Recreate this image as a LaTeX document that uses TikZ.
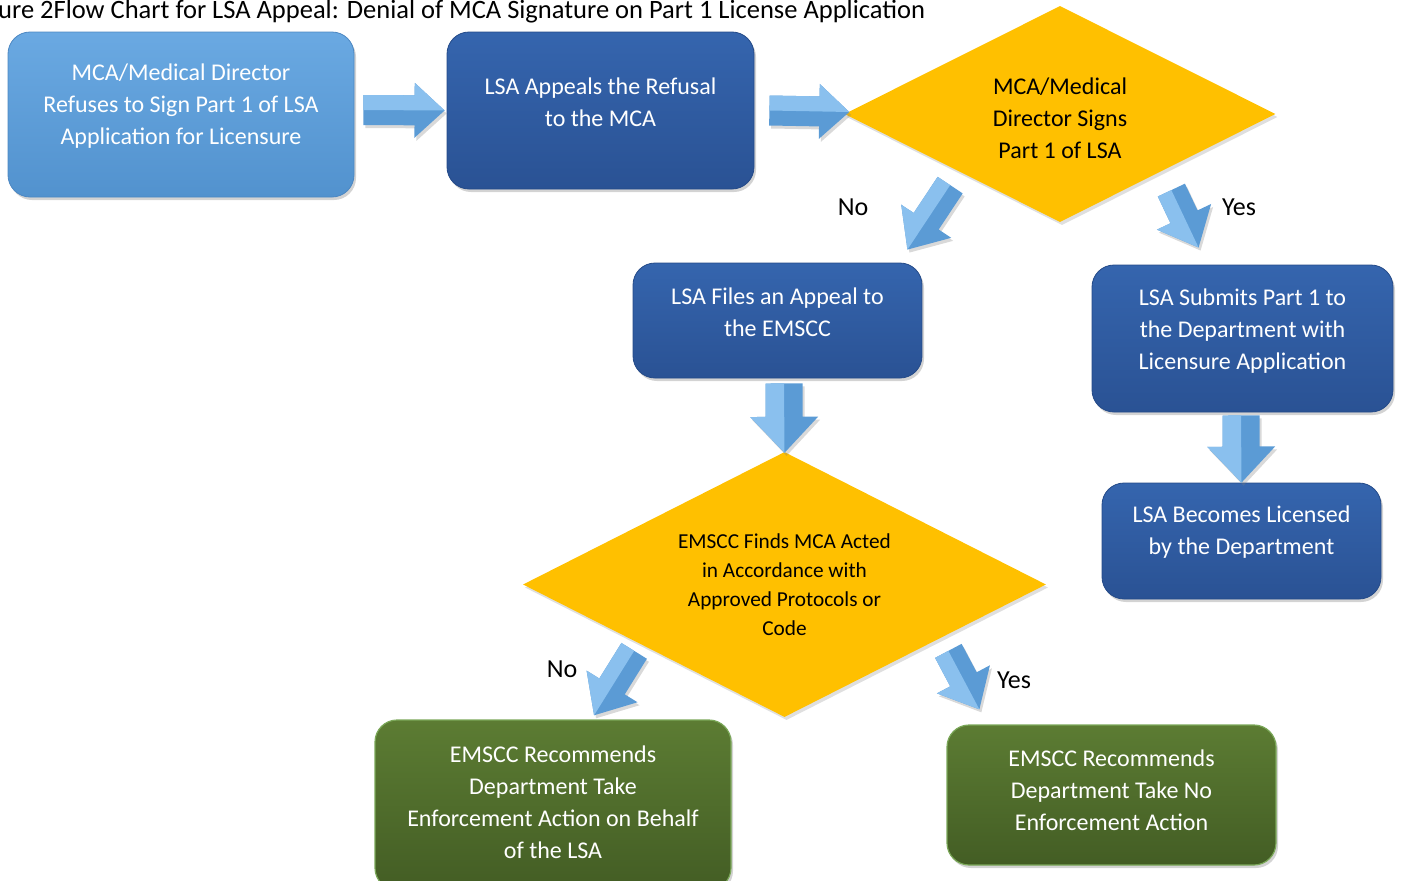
\documentclass[tikz,border=0pt]{standalone}
\usepackage{fontspec}
\setmainfont{Carlito}
\usetikzlibrary{shapes.geometric,calc,shadows}
\definecolor{lbtop}{HTML}{6AA9E2}
\definecolor{lbbot}{HTML}{5292CE}
\definecolor{lbedge}{HTML}{4C87C2}
\definecolor{dbtop}{HTML}{3565AE}
\definecolor{dbbot}{HTML}{2A5294}
\definecolor{dbedge}{HTML}{244A88}
\definecolor{gntop}{HTML}{5C7C33}
\definecolor{gnbot}{HTML}{435D24}
\definecolor{gnedge}{HTML}{7BA859}
\definecolor{gold}{HTML}{FFC000}
\definecolor{arrblue}{HTML}{5B9BD5}
\definecolor{arrlite}{HTML}{8AC0EE}
\tikzset{
  boxbase/.style={rectangle, rounded corners=22pt, inner sep=0pt, line width=0.8pt,
    drop shadow={opacity=0.35, shadow xshift=2pt, shadow yshift=-3pt}},
  lbox/.style={boxbase, top color=lbtop, bottom color=lbbot, draw=lbedge},
  dbox/.style={boxbase, top color=dbtop, bottom color=dbbot, draw=dbedge},
  gbox/.style={boxbase, top color=gntop, bottom color=gnbot, draw=gnedge, line width=1.2pt},
  dia/.style={diamond, inner sep=0pt, fill=gold,
    drop shadow={opacity=0.25, shadow xshift=2pt, shadow yshift=-3pt}},
  wtxt/.style={text=white, align=center, font=\fontsize{24}{32}\selectfont},
  btxt/.style={text=black, align=center, font=\fontsize{24}{32}\selectfont},
  stxt/.style={text=black, align=center, font=\fontsize{21.3}{29}\selectfont},
  yn/.style={text=black, font=\fontsize{26}{30}\selectfont, inner sep=0pt},
  arrbase/.style={fill=arrblue, drop shadow={opacity=0.3, shadow xshift=2pt, shadow yshift=-3pt}},
  arrfacet/.style={fill=arrlite},
}
% #1 start, #2 end, #3 shaft half width, #4 head half width, #5 head length, #6 light side (+1/-1)
\newcommand\blkarrow[6]{%
  \fill[arrbase] let \p1=(#1), \p2=(#2), \n1={atan2(\y2-\y1,\x2-\x1)},
      \n2={veclen(\x2-\x1,\y2-\y1)}, \n3={\n2-#5} in
    [shift={(\p1)}, rotate=\n1]
    (0,#3) -- (\n3,#3) -- (\n3,#4) -- (\n2,0) -- (\n3,-#4) -- (\n3,-#3) -- (0,-#3) -- cycle;
  \fill[arrfacet] let \p1=(#1), \p2=(#2), \n1={atan2(\y2-\y1,\x2-\x1)},
      \n2={veclen(\x2-\x1,\y2-\y1)}, \n3={\n2-#5} in
    [shift={(\p1)}, rotate=\n1]
    (0,0) -- (0,#6*#3) -- (\n3,#6*#3) -- (\n3,#6*#4) -- (\n2,0) -- cycle;
}
\begin{document}
\begin{tikzpicture}[x=1pt,y=-1pt]
\useasboundingbox (0,0) rectangle (1401,881);
\node[anchor=base west, inner sep=0pt, font=\fontsize{26.5}{30}\selectfont] (title) at (-2,18.5)
  {ure 2Flow Chart for LSA Appeal: Denial of MCA Signature on Part 1 License Application};

\node[lbox, minimum width=346pt, minimum height=165pt,
  label={[wtxt, yshift=8pt]center:MCA/Medical Director\\Refuses to Sign Part 1 of LSA\\Application for Licensure}]
  (A) at (181,114.5) {};
\node[dbox, minimum width=307pt, minimum height=157pt,
  label={[wtxt, yshift=8.5pt]center:LSA Appeals the Refusal\\to the MCA}]
  (B) at (600.5,110.5) {};
\node[dia, minimum width=431pt, minimum height=216pt,
  label={[btxt, yshift=-4pt]center:MCA/Medical\\Director Signs\\Part 1 of LSA}]
  (C) at (1060,114) {};
\node[dbox, minimum width=289pt, minimum height=115pt,
  label={[wtxt, yshift=8.5pt]center:LSA Files an Appeal to\\the EMSCC}]
  (D) at (777.5,320.5) {};
\node[dbox, minimum width=301pt, minimum height=147pt,
  label={[wtxt, yshift=7.5pt]center:LSA Submits Part 1 to\\the Department with\\Licensure Application}]
  (E) at (1242.5,338.5) {};
\node[dbox, minimum width=279pt, minimum height=116pt,
  label={[wtxt, yshift=9pt]center:LSA Becomes Licensed\\by the Department}]
  (F) at (1241.5,541) {};
\node[dia, minimum width=523pt, minimum height=265pt,
  label={[stxt]center:EMSCC Finds MCA Acted\\in Accordance with\\Approved Protocols or\\Code}]
  (G) at (784.5,584.5) {};
\node[gbox, minimum width=356pt, minimum height=170pt,
  label={[wtxt, yshift=2.5pt]center:EMSCC Recommends\\Department Take\\Enforcement Action on Behalf\\of the LSA}]
  (H) at (553,805) {};
\node[gbox, minimum width=329pt, minimum height=140pt,
  label={[wtxt, yshift=5pt]center:EMSCC Recommends\\Department Take No\\Enforcement Action}]
  (I) at (1111.5,795) {};

\node[yn] (no1) at (853,207) {No};
\node[yn] (yes1) at (1239,207) {Yes};
\node[yn] (no2) at (562,669) {No};
\node[yn] (yes2) at (1014,680) {Yes};

\blkarrow{$(A.east)+(9,-4.5)$}{$(B.west)+(-2,0)$}{15}{27.5}{30}{-1}
\blkarrow{$(B.east)+(15,0)$}{$(C.west)+(5,-2)$}{15}{27.5}{30}{-1}
\blkarrow{$(C.south west)+(-2,17)$}{$(D.north east)+(-15,-13)$}{15}{30}{34}{1}
\blkarrow{$(C.south east)+(3.5,22)$}{$(E.north west)+(107,-17)$}{15}{30}{34}{1}
\blkarrow{$(D.south)+(6.5,5)$}{$(G.north)+(0,1)$}{18.5}{34}{36}{1}
\blkarrow{$(E.south)+(-1.5,3)$}{$(F.north)+(0,0)$}{18.5}{34}{36}{1}
\blkarrow{$(G.south west)+(-19.5,0)$}{$(H.north)+(41,-4)$}{15}{30}{34}{1}
\blkarrow{$(G.south east)+(33,0)$}{$(I.north west)+(33,-15)$}{15}{30}{34}{1}
\end{tikzpicture}
\end{document}
